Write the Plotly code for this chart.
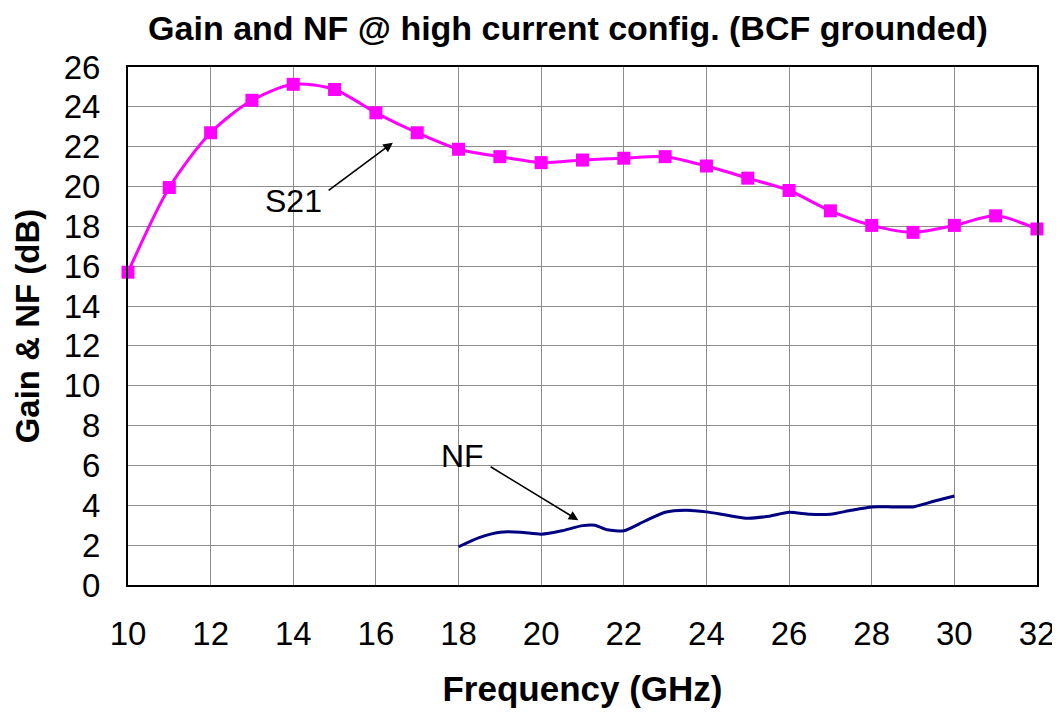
import plotly.graph_objects as go

# S21 gain (dB) vs frequency (GHz)
s21_freq = [10, 11, 12, 13, 14, 15, 16, 17, 18, 19, 20, 21, 22, 23, 24, 25, 26, 27, 28, 29, 30, 31, 32]
s21_gain = [15.7, 19.95, 22.7, 24.33, 25.13, 24.87, 23.7, 22.7, 21.87, 21.5, 21.2, 21.33, 21.42, 21.5,
            21.03, 20.42, 19.8, 18.78, 18.05, 17.7, 18.05, 18.53, 17.87]

# Noise figure (dB) vs frequency (GHz)
nf_freq = [18, 18.5, 19, 19.5, 20, 20.5, 21, 21.3, 21.6, 22, 22.5, 23, 23.5, 24, 24.5, 25, 25.5,
           26, 26.5, 27, 27.5, 28, 28.5, 29, 29.5, 30]
nf_val = [1.92, 2.38, 2.65, 2.65, 2.55, 2.72, 2.98, 3.0, 2.77, 2.72, 3.2, 3.65, 3.75, 3.67, 3.5,
          3.35, 3.45, 3.65, 3.55, 3.55, 3.75, 3.92, 3.92, 3.92, 4.2, 4.47]

x_ticks = list(range(10, 33, 2))
y_ticks = list(range(0, 27, 2))

FONT = "Liberation Sans, Arial, sans-serif"

fig = go.Figure()
fig.add_trace(go.Scatter(
    x=s21_freq, y=s21_gain, mode="lines+markers", name="S21",
    line=dict(color="#FF00FF", width=3, shape="spline", smoothing=0.8),
    marker=dict(symbol="square", size=13, color="#FF00FF"),
    cliponaxis=False,
))
fig.add_trace(go.Scatter(
    x=nf_freq, y=nf_val, mode="lines", name="NF",
    line=dict(color="#000080", width=3, shape="spline", smoothing=0.6),
))

annots = [
    dict(x=14.0, y=19.25, text="S21", showarrow=False, font=dict(size=32, color="black", family=FONT)),
    dict(x=16.41, y=22.2, ax=14.82, ay=19.75, axref="x", ayref="y", text="", showarrow=True,
         arrowhead=2, arrowsize=1.2, arrowwidth=1.6, arrowcolor="black"),
    dict(x=18.09, y=6.48, text="NF", showarrow=False, font=dict(size=32, color="black", family=FONT)),
    dict(x=20.9, y=3.25, ax=18.74, ay=5.98, axref="x", ayref="y", text="", showarrow=True,
         arrowhead=2, arrowsize=1.2, arrowwidth=1.6, arrowcolor="black"),
]

fig.update_layout(
    width=1060, height=715,
    margin=dict(l=120, r=31, t=59, b=138),
    paper_bgcolor="white", plot_bgcolor="white",
    showlegend=False,
    font=dict(family=FONT, color="black"),
    title=dict(text="<b>Gain and NF @ high current config. (BCF grounded)</b>",
               xref="paper", x=0.484, xanchor="center", y=0.972, yanchor="middle",
               font=dict(size=34, family=FONT, color="black")),
    annotations=annots,
)
fig.update_xaxes(
    range=[10, 32], tickvals=x_ticks, ticks="", tickfont=dict(size=33),
    showgrid=True, gridcolor="#8c8c8c", gridwidth=1,
    showline=True, linecolor="black", linewidth=2, mirror=True,
    ticklabelstandoff=18,
    title=dict(text="<b>Frequency (GHz)</b>", font=dict(size=35), standoff=26),
    zeroline=False,
)
fig.update_yaxes(
    range=[0, 26], tickvals=y_ticks, ticks="", tickfont=dict(size=33),
    showgrid=True, gridcolor="#8c8c8c", gridwidth=1,
    showline=True, linecolor="black", linewidth=2, mirror=True,
    ticklabelstandoff=19,
    title=dict(text="<b>Gain & NF (dB)</b>", font=dict(size=33), standoff=14),
    zeroline=False,
)

fig.write_html("out.html")
